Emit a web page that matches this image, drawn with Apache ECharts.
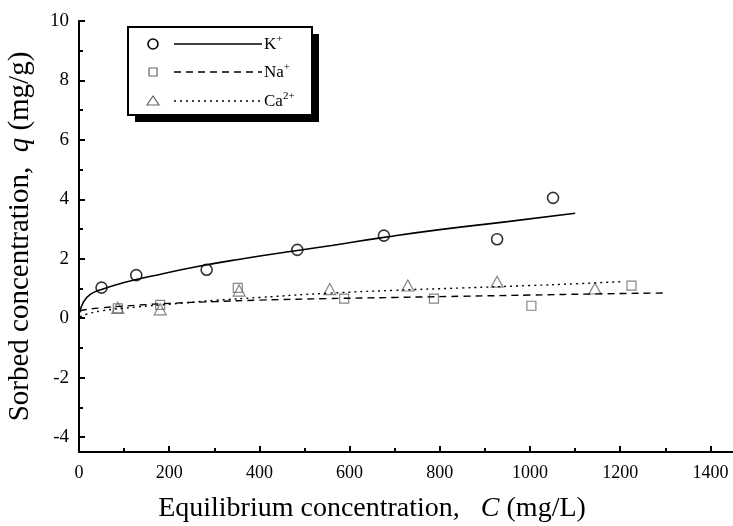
<!DOCTYPE html>
<html>
<head>
<meta charset="utf-8">
<script src="https://cdn.jsdelivr.net/npm/echarts@6/dist/echarts.min.js"></script>
<style>
  html, body { margin: 0; padding: 0; background: #fff; }
  #chart { width: 733px; height: 526px; }
</style>
</head>
<body>
<div id="chart"></div>
<script>
// measured points [C mg/L, q mg/g]
const kPoints = [[50, 1.03], [127, 1.45], [283, 1.63], [484, 2.3], [676, 2.78], [927, 2.66], [1051, 4.05]];
const naPoints = [[86, 0.33], [180, 0.45], [352, 1.02], [588, 0.66], [787, 0.66], [1003, 0.42], [1225, 1.1]];
const caPoints = [[86, 0.35], [180, 0.3], [355, 0.93], [556, 0.98], [729, 1.1], [927, 1.23], [1144, 1.0]];

// fitted curves
const kFit = [[2, 0.2], [10, 0.55], [25, 0.8], [50, 0.97], [100, 1.2], [165, 1.43], [260, 1.73], [350, 1.97],
  [484, 2.28], [560, 2.45], [676, 2.72], [800, 2.98], [950, 3.25], [1100, 3.53]];
const naFit = [[2, 0.25], [20, 0.3], [50, 0.35], [130, 0.44], [200, 0.5], [300, 0.56], [400, 0.61], [550, 0.66],
  [700, 0.7], [850, 0.74], [1000, 0.78], [1150, 0.82], [1300, 0.85]];
const caFit = [[2, 0.05], [20, 0.15], [50, 0.25], [130, 0.38], [200, 0.47], [300, 0.6], [400, 0.7], [550, 0.84],
  [700, 0.94], [850, 1.02], [1000, 1.1], [1100, 1.16], [1200, 1.23]];

const xTicks = [0, 200, 400, 600, 800, 1000, 1200, 1400];
const xMinorTicks = [100, 300, 500, 700, 900, 1100, 1300];
const yTicks = [-4, -2, 0, 2, 4, 6, 8, 10];
const yMinorTicks = [-3, -1, 1, 3, 5, 7, 9];

const font = '"Liberation Serif", "DejaVu Serif", serif';

const chart = echarts.init(document.getElementById('chart'), null, { renderer: 'canvas' });

const lineAxis = { onZero: false, lineStyle: { color: '#000', width: 2 } };
const plain = (v) => String(v);

const option = {
  backgroundColor: '#fff',
  animation: false,
  grid: { left: 79, right: 0, top: 21, bottom: 74, outerBoundsMode: 'none' },
  xAxis: [
    {
      type: 'value', min: 0, max: 1450,
      axisLine: lineAxis,
      axisTick: { inside: true, length: 6, lineStyle: { width: 2, color: '#000' }, customValues: xTicks },
      axisLabel: { customValues: xTicks, formatter: plain, color: '#000', fontFamily: font, fontSize: 18, margin: 12 },
      splitLine: { show: false },
      name: 'Equilibrium concentration,   {i|C} (mg/L)',
      nameLocation: 'middle', nameGap: 43,
      nameTextStyle: { color: '#000', fontFamily: font, fontSize: 28, padding: [0, 68, 0, 0],
        rich: { i: { fontStyle: 'italic', fontFamily: font, fontSize: 28, color: '#000' } } }
    },
    {
      // minor ticks only
      type: 'value', min: 0, max: 1450, position: 'bottom',
      axisLine: { show: false, onZero: false },
      axisTick: { inside: true, length: 4, lineStyle: { width: 2, color: '#000' }, customValues: xMinorTicks },
      axisLabel: { show: false },
      splitLine: { show: false }
    }
  ],
  yAxis: [
    {
      type: 'value', min: -4.5, max: 10,
      axisLine: lineAxis,
      axisTick: { inside: true, length: 6, lineStyle: { width: 2, color: '#000' }, customValues: yTicks },
      axisLabel: { customValues: yTicks, formatter: plain, color: '#000', fontFamily: font, fontSize: 19, margin: 10 },
      splitLine: { show: false },
      name: 'Sorbed concentration,  {i|q} (mg/g)',
      nameLocation: 'middle', nameGap: 44, nameRotate: 90,
      nameTextStyle: { color: '#000', fontFamily: font, fontSize: 29,
        rich: { i: { fontStyle: 'italic', fontFamily: font, fontSize: 29, color: '#000' } } }
    },
    {
      type: 'value', min: -4.5, max: 10, position: 'left',
      axisLine: { show: false, onZero: false },
      axisTick: { inside: true, length: 4, lineStyle: { width: 2, color: '#000' }, customValues: yMinorTicks },
      axisLabel: { show: false },
      splitLine: { show: false }
    }
  ],
  series: [
    { name: 'K fit', type: 'line', data: kFit, smooth: true, symbol: 'none',
      lineStyle: { color: '#000', width: 1.6 } },
    { name: 'Na fit', type: 'line', data: naFit, smooth: true, symbol: 'none',
      lineStyle: { color: '#000', width: 1.4, type: [7, 5] } },
    { name: 'Ca fit', type: 'line', data: caFit, smooth: true, symbol: 'none',
      lineStyle: { color: '#000', width: 1.4, type: [2, 4] } },
    { name: 'K+', type: 'scatter', data: kPoints, symbol: 'circle', symbolSize: 11,
      itemStyle: { color: 'rgba(0,0,0,0)', borderColor: '#000', borderWidth: 1.6 } },
    { name: 'Na+', type: 'scatter', data: naPoints, symbol: 'rect', symbolSize: 9,
      itemStyle: { color: 'rgba(0,0,0,0)', borderColor: '#666', borderWidth: 1.2 } },
    { name: 'Ca2+', type: 'scatter', data: caPoints, symbol: 'triangle', symbolSize: [12, 11],
      itemStyle: { color: 'rgba(0,0,0,0)', borderColor: '#666', borderWidth: 1.2 } }
  ],
  graphic: [
    // legend box with drop shadow
    { type: 'rect', left: 135, top: 34, shape: { width: 184, height: 88 }, style: { fill: '#000' }, z: 10 },
    { type: 'rect', left: 127, top: 26, shape: { width: 184, height: 88 },
      style: { fill: '#fff', stroke: '#000', lineWidth: 2 }, z: 11 },
    { type: 'circle', shape: { cx: 153, cy: 44, r: 5 }, style: { fill: 'none', stroke: '#000', lineWidth: 1.6 }, z: 12 },
    { type: 'rect', shape: { x: 149, y: 68, width: 8, height: 8 }, style: { fill: 'none', stroke: '#666', lineWidth: 1.2 }, z: 12 },
    { type: 'polygon', shape: { points: [[153, 96], [147, 105], [159, 105]] }, style: { fill: 'none', stroke: '#666', lineWidth: 1.2 }, z: 12 },
    { type: 'line', shape: { x1: 174, y1: 44, x2: 262, y2: 44 }, style: { stroke: '#000', lineWidth: 1.6 }, z: 12 },
    { type: 'line', shape: { x1: 174, y1: 72, x2: 262, y2: 72 }, style: { stroke: '#000', lineWidth: 1.4, lineDash: [7, 5] }, z: 12 },
    { type: 'line', shape: { x1: 174, y1: 101, x2: 262, y2: 101 }, style: { stroke: '#000', lineWidth: 1.4, lineDash: [2, 4] }, z: 12 },
    { type: 'text', left: 264, top: 34, z: 12,
      style: { text: '{b|K}{s|+}', rich: { b: { fontFamily: font, fontSize: 17, fill: '#000' }, s: { fontFamily: font, fontSize: 11, fill: '#000', padding: [0, 0, 10, 0] } } } },
    { type: 'text', left: 264, top: 62, z: 12,
      style: { text: '{b|Na}{s|+}', rich: { b: { fontFamily: font, fontSize: 17, fill: '#000' }, s: { fontFamily: font, fontSize: 11, fill: '#000', padding: [0, 0, 10, 0] } } } },
    { type: 'text', left: 264, top: 91, z: 12,
      style: { text: '{b|Ca}{s|2+}', rich: { b: { fontFamily: font, fontSize: 17, fill: '#000' }, s: { fontFamily: font, fontSize: 11, fill: '#000', padding: [0, 0, 10, 0] } } } }
  ]
};

chart.setOption(option);
</script>
</body>
</html>
